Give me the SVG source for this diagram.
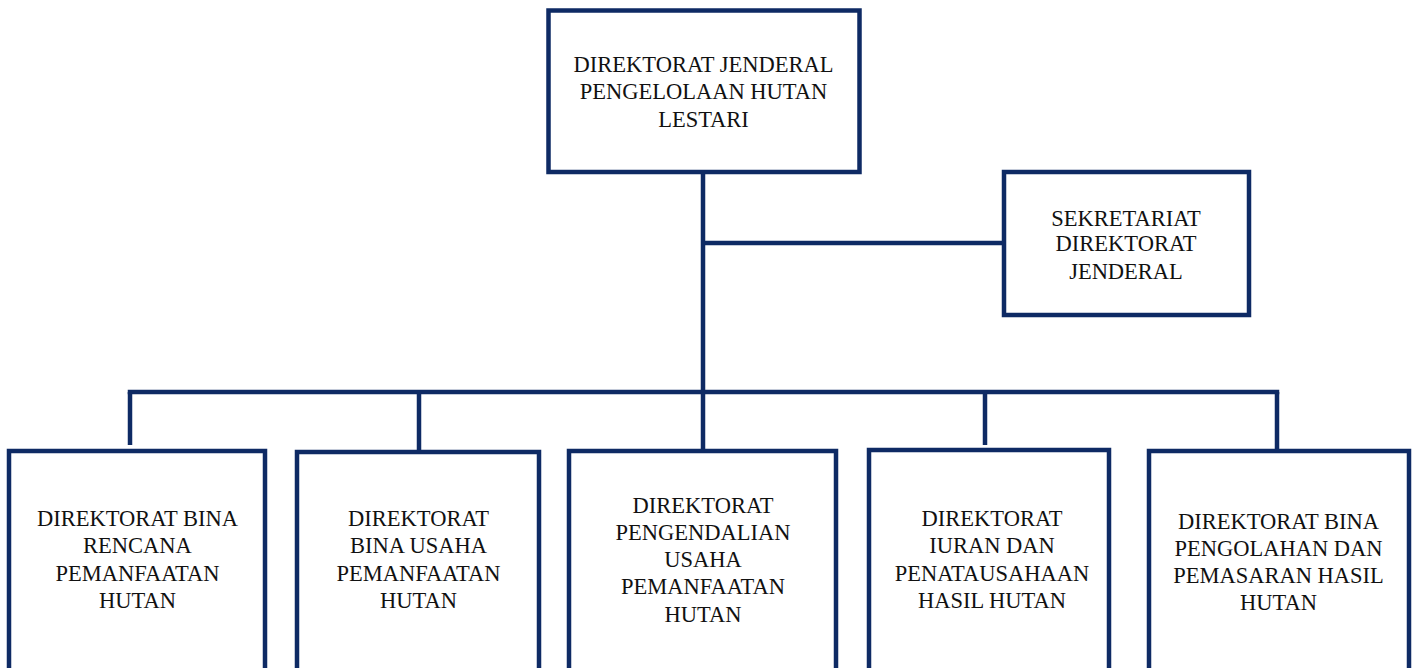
<svg xmlns="http://www.w3.org/2000/svg" width="1414" height="668" viewBox="0 0 1414 668">
<style>
.box{fill:#fff;stroke:#0e2a64;stroke-width:4.5}
.ln{fill:none;stroke:#0e2a64;stroke-width:4.5;stroke-linecap:butt}
.t{font-family:"Liberation Serif","DejaVu Serif",serif;font-size:22.5px;fill:#111;text-anchor:middle}
</style>
<rect width="1414" height="668" fill="#fff"/>
<g id="connectors">
<path class="ln" d="M703 172V392"/>
<path class="ln" d="M703 243H1004"/>
<path class="ln" d="M127.75 392H1279.25"/>
<path class="ln" d="M130 392V445"/>
<path class="ln" d="M419 392V451"/>
<path class="ln" d="M703 392V451"/>
<path class="ln" d="M985 392V445"/>
<path class="ln" d="M1277 392V451"/>
</g>
<g id="n-dirjen">
<rect class="box" x="548.5" y="10.5" width="311" height="161.5"/>
<text class="t"><tspan x="703.5" y="72">DIREKTORAT JENDERAL</tspan><tspan x="703.5" y="99">PENGELOLAAN HUTAN</tspan><tspan x="703.5" y="127">LESTARI</tspan></text>
</g>
<g id="n-sekretariat">
<rect class="box" x="1004" y="172" width="245" height="143"/>
<text class="t"><tspan x="1126" y="226">SEKRETARIAT</tspan><tspan x="1126" y="251">DIREKTORAT</tspan><tspan x="1126" y="279">JENDERAL</tspan></text>
</g>
<g id="n-brph">
<rect class="box" x="9" y="451" width="256" height="240"/>
<text class="t"><tspan x="137.5" y="526">DIREKTORAT BINA</tspan><tspan x="137.5" y="553">RENCANA</tspan><tspan x="137.5" y="581">PEMANFAATAN</tspan><tspan x="137.5" y="608">HUTAN</tspan></text>
</g>
<g id="n-buph">
<rect class="box" x="297" y="452" width="242" height="240"/>
<text class="t"><tspan x="418.5" y="526">DIREKTORAT</tspan><tspan x="418.5" y="553">BINA USAHA</tspan><tspan x="418.5" y="581">PEMANFAATAN</tspan><tspan x="418.5" y="608">HUTAN</tspan></text>
</g>
<g id="n-puph">
<rect class="box" x="569" y="451" width="267" height="240"/>
<text class="t"><tspan x="703" y="513">DIREKTORAT</tspan><tspan x="703" y="540">PENGENDALIAN</tspan><tspan x="703" y="567">USAHA</tspan><tspan x="703" y="594">PEMANFAATAN</tspan><tspan x="703" y="622">HUTAN</tspan></text>
</g>
<g id="n-iuran">
<rect class="box" x="869" y="450" width="240" height="240"/>
<text class="t"><tspan x="992" y="526">DIREKTORAT</tspan><tspan x="992" y="553">IURAN DAN</tspan><tspan x="992" y="581">PENATAUSAHAAN</tspan><tspan x="992" y="608">HASIL HUTAN</tspan></text>
</g>
<g id="n-pengolahan">
<rect class="box" x="1149" y="451" width="260" height="240"/>
<text class="t"><tspan x="1278.5" y="529">DIREKTORAT BINA</tspan><tspan x="1278.5" y="556">PENGOLAHAN DAN</tspan><tspan x="1278.5" y="583">PEMASARAN HASIL</tspan><tspan x="1278.5" y="610">HUTAN</tspan></text>
</g>
</svg>
